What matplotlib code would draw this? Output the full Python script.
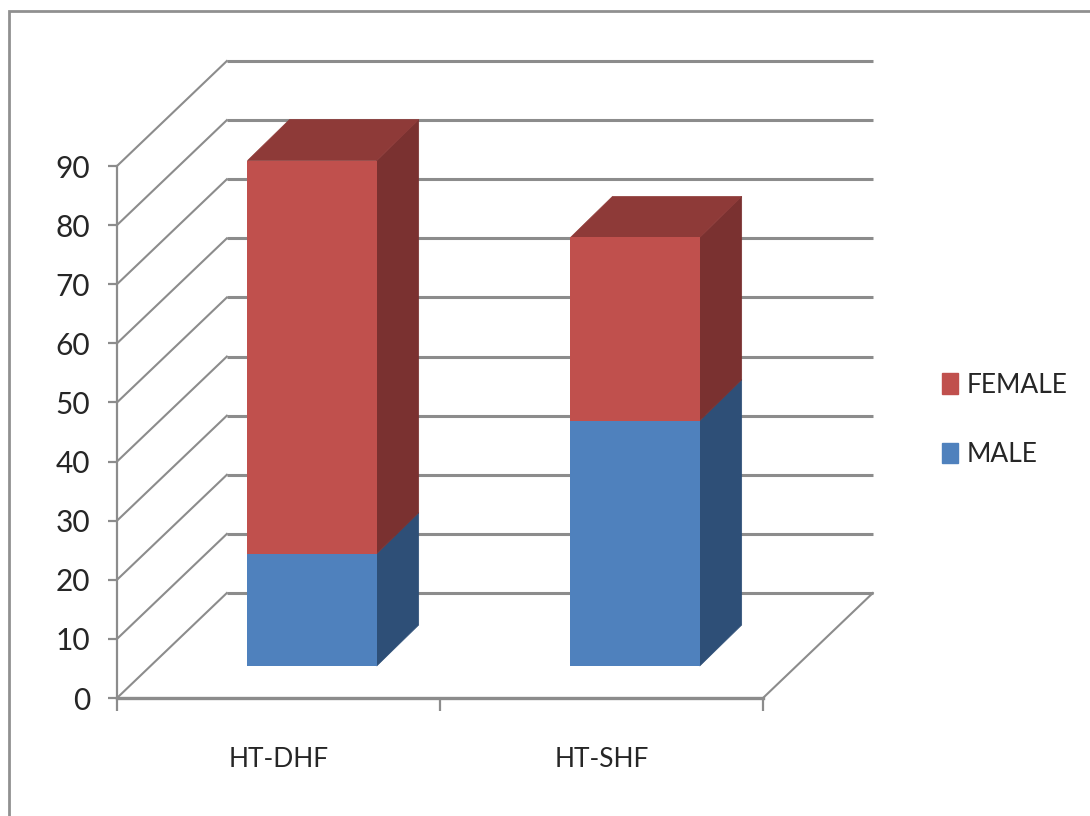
import matplotlib
matplotlib.use("Agg")
import matplotlib.pyplot as plt
from matplotlib.patches import Polygon, Patch, Rectangle

categories = ["HT-DHF", "HT-SHF"]
male = [19, 41.5]
female = [66.5, 31]
y_ticks = list(range(0, 100, 10))

W, H = 1090, 816
BLUE = "#4F81BD"
BLUE_SIDE = "#2E4F77"
RED = "#C0504D"
RED_SIDE = "#7A3130"
RED_TOP = "#8E3A38"
GREY = "#8C8C8C"
TEXT = "#262626"
TICK_SIZE = 21.5
LABEL_SIZE = 19

plt.rcParams["font.family"] = ["Lato", "DejaVu Sans"]

fig = plt.figure(figsize=(W / 100, H / 100), dpi=100)
# plot area is the front plane of the 3d box
ax = fig.add_axes([117 / W, 1 - 698 / H, 646 / W, 532 / H])
ax.set_xlim(0, 2)
ax.set_ylim(0, 90)
ax.patch.set_alpha(0)

# outer chart border, runs off the right and bottom edges
fig.add_artist(Rectangle((9 / W, -0.1), 1.2, 1.1 - 11 / H, transform=fig.transFigure,
                         fill=False, ec="#909090", lw=2))

# depth of the box and of the bars, in data units
box_dx, box_dy = 0.34, 17.76
bar_dx, bar_dy = 0.13, 6.94
lift_dx, lift_dy = 0.104, 5.41
bar_w = 0.40


def poly(pts, color, z):
    ax.add_patch(Polygon(pts, closed=True, fc=color, ec=color, lw=0.5, clip_on=False, zorder=z))


for v in y_ticks:
    ax.plot([box_dx, 2 + box_dx], [v + box_dy, v + box_dy], color=GREY, lw=2.2,
            clip_on=False, zorder=1, solid_capstyle="butt")
    ax.plot([0, box_dx], [v, v + box_dy], color=GREY, lw=1.5, clip_on=False, zorder=1)
ax.plot([2, 2 + box_dx], [0, box_dy], color=GREY, lw=1.5, clip_on=False, zorder=1)

for i in range(len(categories)):
    x0 = i + 0.5 + lift_dx - bar_w / 2
    x1 = x0 + bar_w
    b = lift_dy
    m = b + male[i]
    t = m + female[i]
    ax.bar(x0, male[i], bar_w, bottom=b, align="edge", color=BLUE, zorder=3, clip_on=False)
    ax.bar(x0, female[i], bar_w, bottom=m, align="edge", color=RED, zorder=3, clip_on=False)
    poly([(x1, b), (x1 + bar_dx, b + bar_dy), (x1 + bar_dx, m + bar_dy), (x1, m)], BLUE_SIDE, 2)
    poly([(x1, m), (x1 + bar_dx, m + bar_dy), (x1 + bar_dx, t + bar_dy), (x1, t)], RED_SIDE, 2)
    poly([(x0, t), (x1, t), (x1 + bar_dx, t + bar_dy), (x0 + bar_dx, t + bar_dy)], RED_TOP, 2)

for s in ["top", "right"]:
    ax.spines[s].set_visible(False)
ax.spines["left"].set_color(GREY)
ax.spines["left"].set_linewidth(1.6)
ax.spines["bottom"].set_color(GREY)
ax.spines["bottom"].set_linewidth(2.4)

ax.set_yticks(y_ticks)
ax.tick_params(axis="y", length=6.5, width=1.6, color=GREY, pad=13, labelsize=TICK_SIZE, labelcolor=TEXT)
ax.set_xticks([0, 1, 2])
ax.set_xticklabels([])
ax.tick_params(axis="x", which="major", length=9, width=1.6, color=GREY)
ax.set_xticks([0.5, 1.5], minor=True)
ax.set_xticklabels(categories, minor=True)
ax.tick_params(axis="x", which="minor", length=0, pad=35, labelsize=LABEL_SIZE, labelcolor=TEXT)

handles = [Patch(color=RED, label="FEMALE"), Patch(color=BLUE, label="MALE")]
fig.legend(handles=handles, loc="upper left", bbox_to_anchor=(942 / W, 1 - 373 / H),
           frameon=False, fontsize=LABEL_SIZE, labelcolor=TEXT, borderpad=0, borderaxespad=0,
           handlelength=0.6, handleheight=0.83, handletextpad=0.34, labelspacing=1.67)

fig.savefig("out.png", dpi=100)
